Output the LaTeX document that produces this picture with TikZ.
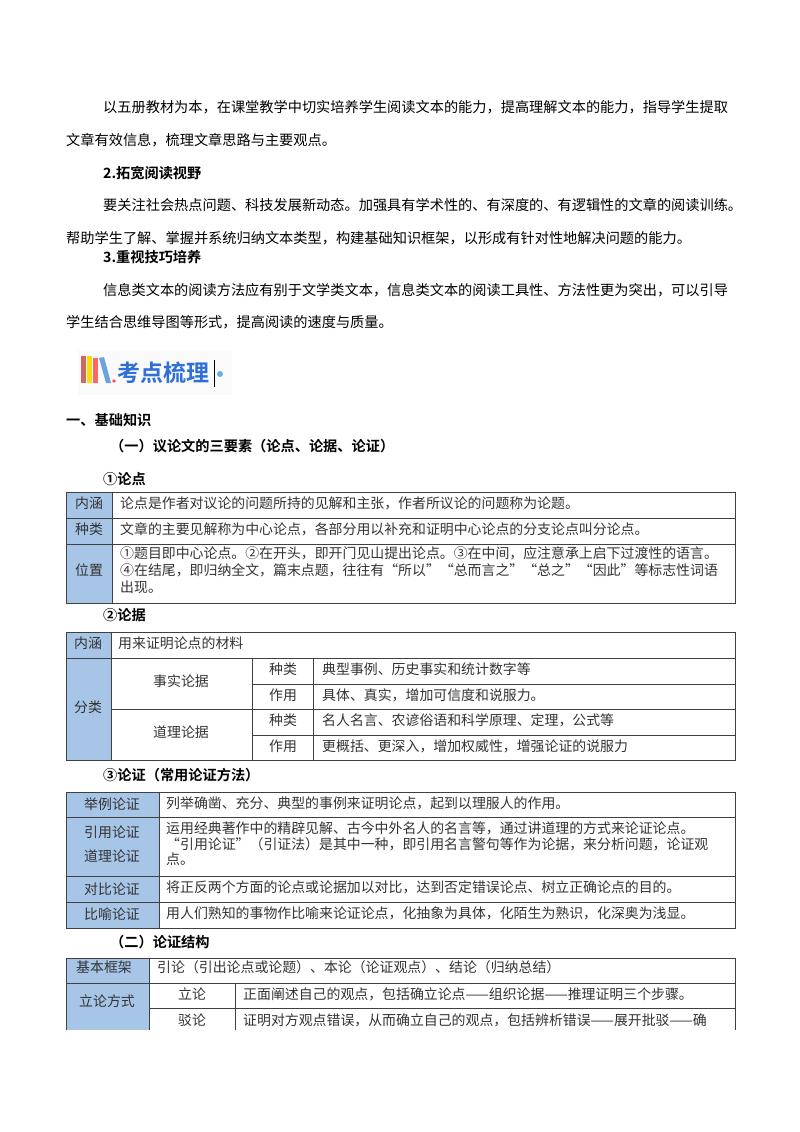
\documentclass[tikz,border=0pt]{standalone}
\usepackage{fontspec}
\setmainfont{Noto Sans CJK SC}[BoldFont={Noto Sans CJK SC Bold}]
\definecolor{hd}{HTML}{A7C5E6}
\definecolor{logoblue}{HTML}{2E6FD8}
\newcommand{\bodyf}{\fontsize{14.2pt}{17pt}\selectfont}
\newcommand{\tabf}{\fontsize{13.9pt}{16pt}\selectfont}
\tikzset{
 txt/.style={anchor=west,inner sep=0pt,font=\bodyf},
 hdtxt/.style={anchor=west,inner sep=0pt,font=\bodyf\bfseries},
 ct/.style={anchor=west,inner sep=0pt,font=\tabf,text=black!80},
 cc/.style={anchor=center,inner sep=0pt,font=\tabf,text=black!80},
 grid/.style={draw=black!75,line width=0.8pt},
 hfill/.style={fill=hd}
}
\begin{document}
\begin{tikzpicture}[x=1pt,y=-1pt]
\useasboundingbox[fill=white] (0,0) rectangle (800,1132);
% paragraphs
\node[txt] (p1) at (103,107) {以五册教材为本，在课堂教学中切实培养学生阅读文本的能力，提高理解文本的能力，指导学生提取};
\node[txt] (p2) at (66,140) {文章有效信息，梳理文章思路与主要观点。};
\node[hdtxt] (h2) at (103,173) {2.拓宽阅读视野};
\node[txt] (p3) at (103,205) {要关注社会热点问题、科技发展新动态。加强具有学术性的、有深度的、有逻辑性的文章的阅读训练。};
\node[txt] (p4) at (66,238) {帮助学生了解、掌握并系统归纳文本类型，构建基础知识框架，以形成有针对性地解决问题的能力。};
\node[hdtxt] (h3) at (103,257) {3.重视技巧培养};
\node[txt] (p5) at (103,290) {信息类文本的阅读方法应有别于文学类文本，信息类文本的阅读工具性、方法性更为突出，可以引导};
\node[txt] (p6) at (66,322) {学生结合思维导图等形式，提高阅读的速度与质量。};
% logo
\fill[black!2] (78,350) rectangle (232,395);
\fill[red!70!black!60] (81,356) rectangle (86,383);
\fill[yellow!80!orange] (87,356) rectangle (92,383);
\fill[red!60] (93,358) rectangle (98,383);
\fill[cyan!60!blue!60] (99,358) -- (104,357) -- (111,383) -- (106,383) -- cycle;
\fill[red!70] (114,381) circle (1.8);
\node[anchor=west,inner sep=0pt,font=\fontsize{23pt}{23pt}\selectfont\bfseries,text=logoblue] (logo) at (117,373) {考点梳理};
\draw[black,line width=0.8pt] (214,360) -- (214,387);
\fill[cyan!70!blue!60] (220,374) circle (3);
% headings
\node[hdtxt] (s1) at (66,420) {一、基础知识};
\node[hdtxt] (s2) at (110,446) {（一）议论文的三要素（论点、论据、论证）};
\node[hdtxt] (s3) at (103,479) {①论点};
% table 1
\fill[hfill] (66,492) rectangle (112,603);
\draw[grid] (66,492) rectangle (735,603);
\draw[grid] (66,518) -- (735,518) (66,544) -- (735,544) (112,492) -- (112,603);
\node[cc] (t1a) at (89,503) {内涵};
\node[cc] (t1b) at (89,529) {种类};
\node[cc] (t1c) at (89,570) {位置};
\node[ct] (t1d) at (120,503) {论点是作者对议论的问题所持的见解和主张，作者所议论的问题称为论题。};
\node[ct] (t1e) at (120,529) {文章的主要见解称为中心论点，各部分用以补充和证明中心论点的分支论点叫分论点。};
\node[ct] (t1f) at (120,553) {①题目即中心论点。②在开头，即开门见山提出论点。③在中间，应注意承上启下过渡性的语言。};
\node[ct] (t1g) at (120,570) {④在结尾，即归纳全文，篇末点题，往往有“所以”“总而言之”“总之”“因此”等标志性词语};
\node[ct] (t1h) at (120,587) {出现。};
\node[hdtxt] (s4) at (103,615) {②论据};
% table 2
\fill[hfill] (66,632) rectangle (111,760);
\draw[grid] (66,632) rectangle (735,760);
\draw[grid] (66,658) -- (735,658) (111,709) -- (735,709) (252,684) -- (735,684) (252,735) -- (735,735)
 (111,632) -- (111,760) (252,658) -- (252,760) (313,658) -- (313,760);
\node[cc] (t2a) at (88,643) {内涵};
\node[ct] (t2b) at (118,643) {用来证明论点的材料};
\node[cc] (t2c) at (88,707) {分类};
\node[cc] (t2d) at (181,681) {事实论据};
\node[cc] (t2e) at (181,732) {道理论据};
\node[cc] (t2f) at (283,669) {种类};
\node[cc] (t2g) at (283,695) {作用};
\node[cc] (t2h) at (283,720) {种类};
\node[cc] (t2i) at (283,746) {作用};
\node[ct] (t2j) at (322,669) {典型事例、历史事实和统计数字等};
\node[ct] (t2k) at (322,695) {具体、真实，增加可信度和说服力。};
\node[ct] (t2l) at (322,720) {名人名言、农谚俗语和科学原理、定理，公式等};
\node[ct] (t2m) at (322,746) {更概括、更深入，增加权威性，增强论证的说服力};
\node[hdtxt] (s5) at (103,775) {③论证（常用论证方法）};
% table 3
\fill[hfill] (66,792) rectangle (159,928);
\draw[grid] (66,792) rectangle (735,928);
\draw[grid] (66,817) -- (735,817) (66,876) -- (735,876) (66,902) -- (735,902) (159,792) -- (159,928);
\node[cc] (t3a) at (112,804) {举例论证};
\node[cc] (t3b) at (112,832) {引用论证};
\node[cc] (t3c) at (112,856) {道理论证};
\node[cc] (t3d) at (112,889) {对比论证};
\node[cc] (t3e) at (112,914) {比喻论证};
\node[ct] (t3f) at (166,803) {列举确凿、充分、典型的事例来证明论点，起到以理服人的作用。};
\node[ct] (t3g) at (166,828) {运用经典著作中的精辟见解、古今中外名人的名言等，通过讲道理的方式来论证论点。};
\node[ct] (t3h) at (166,844) {“引用论证”（引证法）是其中一种，即引用名言警句等作为论据，来分析问题，论证观};
\node[ct] (t3i) at (166,859) {点。};
\node[ct] (t3j) at (166,887) {将正反两个方面的论点或论据加以对比，达到否定错误论点、树立正确论点的目的。};
\node[ct] (t3k) at (166,913) {用人们熟知的事物作比喻来论证论点，化抽象为具体，化陌生为熟识，化深奥为浅显。};
\node[hdtxt] (s6) at (110,942) {（二）论证结构};
% table 4
\fill[hfill] (66,958) rectangle (149,1030);
\draw[grid] (66,1030) -- (66,958) -- (735,958) -- (735,1030);
\draw[grid] (66,983) -- (735,983) (149,1008) -- (735,1008) (149,958) -- (149,1030) (235,983) -- (235,1030);
\node[cc] (t4a) at (104,967) {基本框架};
\node[cc] (t4b) at (107,1001) {立论方式};
\node[ct] (t4c) at (157,967) {引论（引出论点或论题）、本论（论证观点）、结论（归纳总结）};
\node[cc] (t4d) at (192,994) {立论};
\node[cc] (t4e) at (192,1020) {驳论};
\node[ct] (t4f) at (243,994) {正面阐述自己的观点，包括确立论点——组织论据——推理证明三个步骤。};
\node[ct] (t4g) at (243,1020) {证明对方观点错误，从而确立自己的观点，包括辨析错误——展开批驳——确};
\end{tikzpicture}
\end{document}
